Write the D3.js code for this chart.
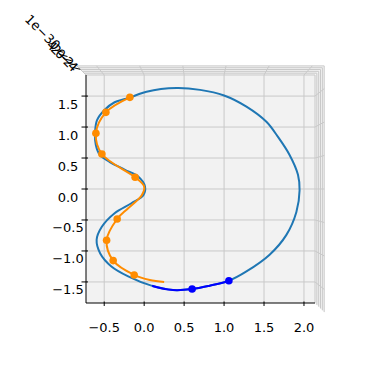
<!DOCTYPE html>
<html>
<head>
<meta charset="utf-8">
<script src="https://cdn.jsdelivr.net/npm/d3@7"></script>
<style>
  body { margin: 0; background: #fff; }
  text { font-family: 'DejaVu Sans', sans-serif; }
</style>
</head>
<body>
<svg width="389" height="389"></svg>
<script>
// closed curve (light blue), traced clockwise from the top-left
const bluePath = [
  [-0.18, 1.47], [0.03, 1.57], [0.405, 1.63], [0.7, 1.6], [1.0, 1.51],
  [1.28, 1.33], [1.53, 1.085], [1.67, 0.85], [1.82, 0.55], [1.925, 0.23], [1.945, -0.02],
  [1.905, -0.37], [1.78, -0.74], [1.57, -1.06], [1.28, -1.33], [1.06, -1.48],
  [0.82, -1.56], [0.6, -1.615], [0.36, -1.63], [0.09, -1.56], [-0.2, -1.41],
  [-0.41, -1.25], [-0.55, -1.04], [-0.595, -0.82], [-0.53, -0.61], [-0.37, -0.39],
  [-0.16, -0.23], [-0.01, -0.1], [0.01, 0.04], [-0.075, 0.2], [-0.24, 0.31],
  [-0.43, 0.435], [-0.555, 0.55], [-0.605, 0.71], [-0.615, 0.9], [-0.59, 1.11],
  [-0.5, 1.27], [-0.37, 1.4], [-0.18, 1.47]
];

// fitted curve (orange) and its sample points
const orangePath = [
  [-0.179, 1.479], [-0.479, 1.237], [-0.604, 0.898], [-0.529, 0.565], [-0.113, 0.189],
  [0.0, 0.04], [-0.03, -0.1], [-0.2, -0.31], [-0.338, -0.484], [-0.47, -0.827],
  [-0.388, -1.156], [-0.125, -1.387], [0.07, -1.47], [0.25, -1.5]
];
const orangePoints = [
  [-0.179, 1.479], [-0.479, 1.237], [-0.604, 0.898], [-0.529, 0.565], [-0.113, 0.189],
  [-0.338, -0.484], [-0.47, -0.827], [-0.388, -1.156], [-0.125, -1.387]
];

// highlighted stretch of the closed curve (dark blue), by x range
const selRange = [0.1, 1.06];
const selPoints = [[0.6, -1.615], [1.06, -1.48]];

const xTicks = [-0.5, 0.0, 0.5, 1.0, 1.5, 2.0];
const xTickLabels = ['\u22120.5', '0.0', '0.5', '1.0', '1.5', '2.0'];
const yTicks = [-1.5, -1.0, -0.5, 0.0, 0.5, 1.0, 1.5];
const yTickLabels = ['\u22121.5', '\u22121.0', '\u22120.5', '0.0', '0.5', '1.0', '1.5'];
const zLevels = [0, 1, 2, 3, 4, 5];
const zTickLabels = ['\u22124', '\u22122', '0', '2', '4'];

const svg = d3.select('svg');

const x = d3.scaleLinear().domain([-0.728, 2.138]).range([86, 315]);
const y = d3.scaleLinear().domain([-1.84, 1.84]).range([303, 75]);

// perspective for the back walls (view from straight above)
const cx = 200, cy = 189;
const kz = d3.scaleLinear().domain([0, 5]).range([1, 1.08]);
const proj = (px, py, k) => [cx + (px - cx) * k, cy + (py - cy) * k];

const x0 = x.range()[0], x1 = x.range()[1];
const yTop = y.range()[1], yBot = y.range()[0];
const kMax = kz(5);

const paneFill = '#f2f2f2';
const gridColor = '#c9c9c9';
const fontSize = 13;

// back wall (top strip) and side wall (right strip)
const topWall = [[x0, yTop], [x1, yTop], proj(x1, yTop, kMax), proj(x0, yTop, kMax)];
const rightWall = [[x1, yTop], [x1, yBot], proj(x1, yBot, kMax), proj(x1, yTop, kMax)];
svg.selectAll('polygon.wall')
  .data([topWall, rightWall])
  .enter().append('polygon')
  .attr('class', 'wall')
  .attr('points', d => d.map(p => p.join(',')).join(' '))
  .attr('fill', paneFill);

svg.append('rect')
  .attr('x', x0).attr('y', yTop)
  .attr('width', x1 - x0).attr('height', yBot - yTop)
  .attr('fill', paneFill);

const grid = svg.append('g')
  .attr('stroke', gridColor)
  .attr('stroke-width', 1)
  .attr('fill', 'none');

// floor grid
xTicks.forEach(t => {
  grid.append('line').attr('x1', x(t)).attr('x2', x(t)).attr('y1', yTop).attr('y2', yBot);
  const p = proj(x(t), yTop, kMax);
  grid.append('line').attr('x1', x(t)).attr('y1', yTop).attr('x2', p[0]).attr('y2', p[1]);
});
yTicks.forEach(t => {
  grid.append('line').attr('x1', x0).attr('x2', x1).attr('y1', y(t)).attr('y2', y(t));
  const p = proj(x1, y(t), kMax);
  grid.append('line').attr('x1', x1).attr('y1', y(t)).attr('x2', p[0]).attr('y2', p[1]);
});
// z grid on the walls
zLevels.forEach(z => {
  const k = kz(z);
  const a = proj(x0, yTop, k), b = proj(x1, yTop, k), c = proj(x1, yBot, k);
  grid.append('polyline').attr('points', [a, b, c].map(p => p.join(',')).join(' '));
});
grid.append('line')
  .attr('x1', x0).attr('y1', yTop)
  .attr('x2', proj(x0, yTop, kMax)[0]).attr('y2', proj(x0, yTop, kMax)[1]);

// axes
const axes = svg.append('g').attr('stroke', '#000').attr('stroke-width', 1);
axes.append('line').attr('x1', x0).attr('x2', x0).attr('y1', yTop).attr('y2', yBot);
axes.append('line').attr('x1', x0).attr('x2', x1).attr('y1', yBot).attr('y2', yBot);
xTicks.forEach(t => {
  axes.append('line').attr('x1', x(t)).attr('x2', x(t)).attr('y1', yBot - 1.5).attr('y2', yBot + 3);
});
yTicks.forEach(t => {
  axes.append('line').attr('x1', x0 - 4.5).attr('x2', x0 + 2).attr('y1', y(t)).attr('y2', y(t));
});

// z axis is seen end-on: its ticks and labels pile up at the top-left corner
const kTick = d3.scaleLinear().domain([0, zTickLabels.length - 1]).range([1.05, 1.2]);
zTickLabels.forEach((lab, i) => {
  const p = proj(x0, yTop, kTick(i));
  axes.append('line')
    .attr('x1', p[0]).attr('y1', p[1])
    .attr('x2', p[0] - 8).attr('y2', p[1] - 2);
  svg.append('text')
    .attr('transform', `translate(${p[0] - 12},${p[1] - 6}) rotate(45)`)
    .attr('text-anchor', 'middle')
    .attr('dominant-baseline', 'middle')
    .attr('font-size', fontSize)
    .text(lab);
});
svg.append('text')
  .attr('transform', 'translate(42,33) rotate(45)')
  .attr('text-anchor', 'middle')
  .attr('dominant-baseline', 'middle')
  .attr('font-size', fontSize)
  .text('1e\u221230');

// mplot3d centres its tick labels
svg.selectAll('text.xt')
  .data(xTicks)
  .enter().append('text')
  .attr('class', 'xt')
  .attr('x', d => x(d))
  .attr('y', yBot + 29)
  .attr('text-anchor', 'middle')
  .attr('font-size', fontSize)
  .text((d, i) => xTickLabels[i]);

svg.selectAll('text.yt')
  .data(yTicks)
  .enter().append('text')
  .attr('class', 'yt')
  .attr('x', x0 - 18)
  .attr('y', d => y(d) + 12.5)
  .attr('text-anchor', 'middle')
  .attr('font-size', fontSize)
  .text((d, i) => yTickLabels[i]);

// data
const line = d3.line()
  .x(d => x(d[0]))
  .y(d => y(d[1]))
  .curve(d3.curveCatmullRom.alpha(0.5));

svg.append('path')
  .datum(bluePath)
  .attr('d', line)
  .attr('fill', 'none')
  .attr('stroke', '#1f77b4')
  .attr('stroke-width', 2);

svg.append('path')
  .datum(orangePath)
  .attr('d', line)
  .attr('fill', 'none')
  .attr('stroke', '#ff8c00')
  .attr('stroke-width', 2);

svg.selectAll('circle.orange')
  .data(orangePoints)
  .enter().append('circle')
  .attr('class', 'orange')
  .attr('cx', d => x(d[0]))
  .attr('cy', d => y(d[1]))
  .attr('r', 3.8)
  .attr('fill', '#ff8c00');

svg.append('clipPath')
  .attr('id', 'sel-clip')
  .append('rect')
  .attr('x', x(selRange[0]))
  .attr('width', x(selRange[1]) - x(selRange[0]))
  .attr('y', y(-1.2))
  .attr('height', yBot - y(-1.2));

svg.append('path')
  .datum(bluePath)
  .attr('d', line)
  .attr('clip-path', 'url(#sel-clip)')
  .attr('fill', 'none')
  .attr('stroke', '#0000ff')
  .attr('stroke-width', 2);

svg.selectAll('circle.sel')
  .data(selPoints)
  .enter().append('circle')
  .attr('class', 'sel')
  .attr('cx', d => x(d[0]))
  .attr('cy', d => y(d[1]))
  .attr('r', 3.8)
  .attr('fill', '#0000ff');
</script>
</body>
</html>
